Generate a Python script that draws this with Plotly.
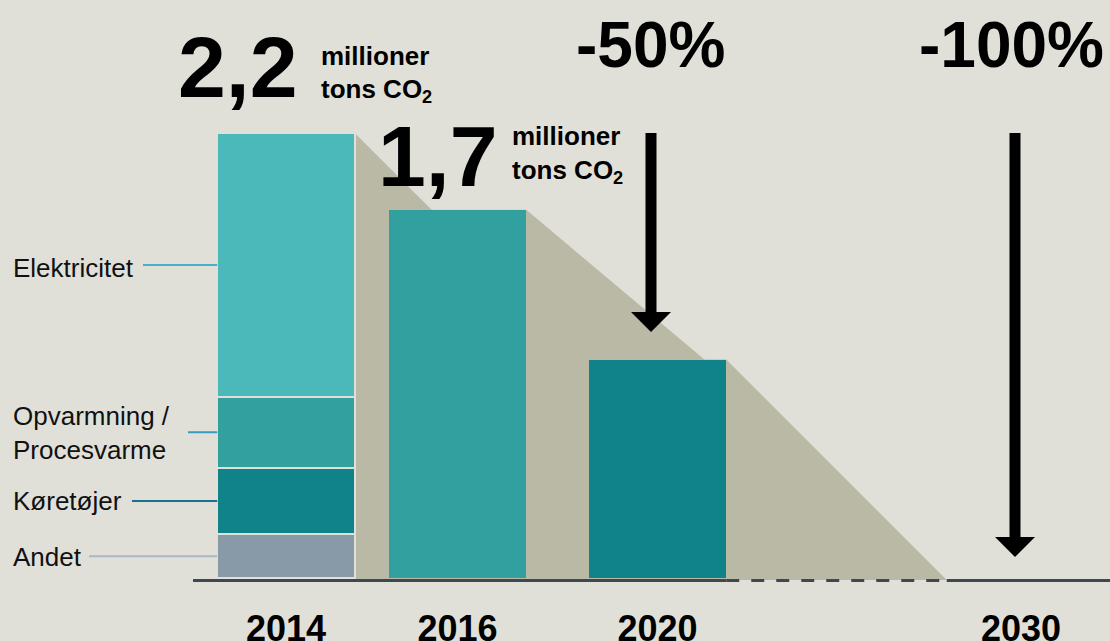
import plotly.graph_objects as go

# ---------------- data ----------------
segments_2014 = ["Andet", "Køretøjer", "Opvarmning /<br>Procesvarme", "Elektricitet"]
values_2014 = [0.216, 0.329, 0.351, 1.304]          # million tons CO2 (stack, bottom -> top)
years = ["2014", "2016", "2020", "2030"]
later_years = ["2016", "2020"]
later_values = [1.82, 1.08]                          # bar heights as drawn
headline_numbers = ["2,2", "1,7"]
headline_unit = ["millioner", "tons CO<sub>2</sub>"]
reductions = ["-50%", "-100%"]

# ---------------- styling / layout ----------------
W, H = 1110, 641
BASE_PX = 578                       # pixel row of value 0
PX = sum(values_2014) / 445.0        # value per pixel
FONT = "Arial, 'Liberation Sans', sans-serif"
BG = "#e0e0d9"
WEDGE = "#bab9a6"
SEG_COLORS = ["#8899a8", "#0f8389", "#33a0a0", "#4bb9ba"]
LATER_COLORS = ["#33a0a0", "#0f8389"]
LEADER_COLORS = ["#a7b9c6", "#1d6f8f", "#3a9bbd", "#4aaecb"]
LEADER_START = [89, 132, 188, 143]
SLOT_X = [286, 457.5, 657.5, 1021]
BAR_W = 137.5


def py(p):
    """pixel row -> data value"""
    return (BASE_PX - p) * PX


fig = go.Figure()

# 2014 stacked bar
for name, val, col in zip(segments_2014, values_2014, SEG_COLORS):
    fig.add_trace(go.Bar(x=[SLOT_X[0]], y=[val], width=BAR_W, name=name,
                         marker=dict(color=col, line=dict(color=BG, width=2)),
                         hoverinfo="skip"))
# 2016 / 2020 bars
for i, (yr, val, col) in enumerate(zip(later_years, later_values, LATER_COLORS)):
    fig.add_trace(go.Bar(x=[SLOT_X[i + 1]], y=[val], width=BAR_W, name=yr,
                         marker=dict(color=col, line=dict(width=0)),
                         hoverinfo="skip"))

shapes = []
# decorative wedge from bar tops to zero
total14 = sum(values_2014)
r14 = SLOT_X[0] + BAR_W / 2
r16 = SLOT_X[1] + BAR_W / 2
r20 = SLOT_X[2] + BAR_W / 2
s1, s2, s3 = 1.0 * PX, 0.84 * PX, 1.0 * PX
pts = [
    (r14, py(580)),
    (r14, total14),
    (r14 + (total14 - later_values[0]) / s1, later_values[0]),
    (r16, later_values[0]),
    (r16 + (later_values[0] - later_values[1]) / s2, later_values[1]),
    (r20, later_values[1]),
    (r20 + (later_values[1] - py(580)) / s3, py(580)),
]
path = "M " + " L ".join(f"{x:.2f},{y:.5f}" for x, y in pts) + " Z"
shapes.append(dict(type="path", path=path, xref="x", yref="y", fillcolor=WEDGE,
                   line=dict(width=0), layer="below"))

# baseline
yb = py(580.5)
x_end_wedge = pts[-1][0]
shapes.append(dict(type="line", xref="x", yref="y", x0=193, x1=r20, y0=yb, y1=yb,
                   line=dict(color="#3d4850", width=3)))
shapes.append(dict(type="line", xref="x", yref="y", x0=r20, x1=x_end_wedge, y0=yb, y1=yb,
                   line=dict(color="#3d4850", width=3, dash="13px,12px")))
shapes.append(dict(type="line", xref="x", yref="y", x0=x_end_wedge, x1=W, y0=yb, y1=yb,
                   line=dict(color="#3d4850", width=3)))

# leader lines for 2014 segments
cum = 0
mids = []
for v in values_2014:
    mids.append(cum + v / 2)
    cum += v
bar_left = SLOT_X[0] - BAR_W / 2
for m, c, xs in zip(mids, LEADER_COLORS, LEADER_START):
    shapes.append(dict(type="line", xref="x", yref="y", x0=xs, x1=bar_left, y0=m, y1=m,
                       line=dict(color=c, width=2)))

# arrows
for xc, tip_px in [(SLOT_X[2] - 6.5, 332), (SLOT_X[3] - 6, 557)]:
    head_base = tip_px - 20
    shapes.append(dict(type="line", xref="x", yref="y", x0=xc, x1=xc,
                       y0=total14, y1=py(head_base + 1),
                       line=dict(color="black", width=11)))
    shapes.append(dict(type="path", xref="x", yref="y",
                       path=f"M {xc-20},{py(head_base):.5f} L {xc+20},{py(head_base):.5f} "
                            f"L {xc},{py(tip_px):.5f} Z",
                       fillcolor="black", line=dict(width=0)))

annotations = []
# segment labels (shift in pixels, positive = down)
label_dy = [1, 0, 1, 3]
for name, m, dy in zip(segments_2014, mids, label_dy):
    annotations.append(dict(x=11, y=m, xref="x", yref="y", text=name, showarrow=False,
                            xanchor="left", yanchor="middle", align="left", yshift=-dy,
                            font=dict(family=FONT, size=26, color="#111111")))

# headline numbers
for txt, xl, yc in zip(headline_numbers, [176, 376], [67, 156]):
    annotations.append(dict(x=xl, y=py(yc), xref="x", yref="y", text=f"<b>{txt}</b>",
                            showarrow=False, xanchor="left", yanchor="middle",
                            font=dict(family=FONT, size=86, color="black")))
for xl, y1, y2 in [(319, 56, 90), (510, 136, 171)]:
    annotations.append(dict(x=xl, y=py(y1), xref="x", yref="y", text=f"<b>{headline_unit[0]}</b>",
                            showarrow=False, xanchor="left", yanchor="middle",
                            font=dict(family=FONT, size=26, color="black")))
    annotations.append(dict(x=xl, y=py(y2), xref="x", yref="y", text=f"<b>{headline_unit[1]}</b>",
                            showarrow=False, xanchor="left", yanchor="middle",
                            font=dict(family=FONT, size=26, color="black")))
# reductions
for txt, xc in zip(reductions, [650, 1011]):
    annotations.append(dict(x=xc, y=py(45), xref="x", yref="y", text=f"<b>{txt}</b>",
                            showarrow=False, xanchor="center", yanchor="middle",
                            font=dict(family=FONT, size=64, color="black")))

fig.update_layout(
    width=W, height=H,
    margin=dict(l=0, r=0, t=0, b=0, pad=0),
    paper_bgcolor=BG, plot_bgcolor=BG,
    barmode="stack", showlegend=False,
    xaxis=dict(range=[0, W], tickvals=SLOT_X, ticktext=[f"<b>{y}</b>" for y in years],
               showgrid=False, zeroline=False, showline=False, ticks="",
               anchor="free", position=(H - BASE_PX) / H, automargin=False,
               tickfont=dict(family=FONT, size=36, color="black"),
               ticklabelstandoff=26, fixedrange=True),
    yaxis=dict(range=[py(H), py(0)], visible=False, fixedrange=True, automargin=False),
    shapes=shapes, annotations=annotations,
)

fig.write_html("out.html", config=dict(displayModeBar=False),
               post_script="document.body.style.margin='0';"
                           "document.body.style.overflow='hidden';"
                           f"document.body.style.background='{BG}';")
